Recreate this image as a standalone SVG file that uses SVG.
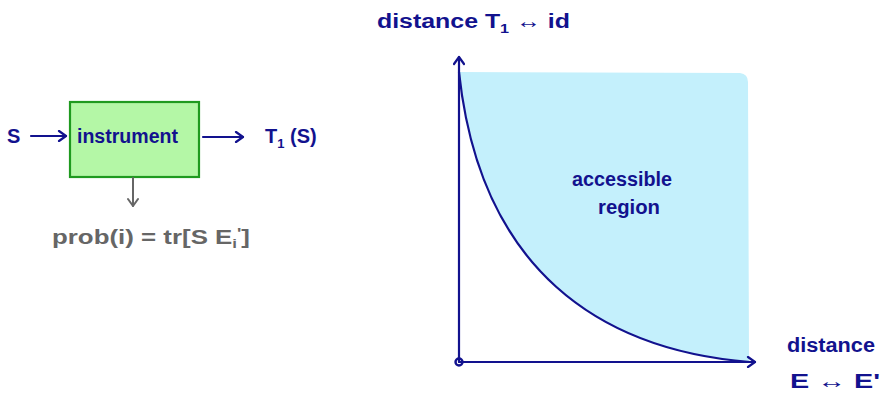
<svg xmlns="http://www.w3.org/2000/svg" width="888" height="394" viewBox="0 0 888 394">
<defs>
<style>
.t{font-family:"Liberation Sans","DejaVu Sans",sans-serif;fill:#12128e;font-size:20px;font-weight:bold}
.g{font-family:"Liberation Sans","DejaVu Sans",sans-serif;fill:#666;font-size:20px;font-weight:bold}
.ln{stroke:#12128e;stroke-width:2.2;fill:none;stroke-linecap:round}
</style>
<marker id="ah" markerWidth="12" markerHeight="12" refX="9" refY="6" orient="auto" markerUnits="userSpaceOnUse">
<path d="M2,1 L9,6 L2,11" fill="none" stroke="#12128e" stroke-width="2.2" stroke-linecap="round" stroke-linejoin="round"/>
</marker>
<marker id="ahg" markerWidth="12" markerHeight="12" refX="9" refY="6" orient="auto" markerUnits="userSpaceOnUse">
<path d="M2,1 L9,6 L2,11" fill="none" stroke="#666" stroke-width="2" stroke-linecap="round" stroke-linejoin="round"/>
</marker>
</defs>
<rect width="888" height="394" fill="#fff"/>

<g id="region">
<path d="M459,72 L740,73 Q748,74 748,82 L749,360 L750,362 C600,350 480,270 459,72 Z" fill="#c4f0fc"/>
</g>

<g id="instrument">
<rect x="70" y="102" width="129" height="75" fill="#b4f7a6" stroke="#1f9a1f" stroke-width="2.2"/>
<text class="t" x="77" y="143" textLength="101" lengthAdjust="spacingAndGlyphs">instrument</text>
</g>

<g id="input"><text class="t" x="7" y="143" font-size="22">S</text></g>
<g id="output"><text class="t" x="265" y="143">T<tspan font-size="13" dy="5">1</tspan><tspan dy="-5"> (S)</tspan></text></g>
<g id="prob"><text class="g" x="52" y="244" textLength="198" lengthAdjust="spacingAndGlyphs">prob(i) = tr[S E<tspan font-size="13" dy="4">i</tspan><tspan dy="-10" font-size="14">'</tspan><tspan dy="6">]</tspan></text></g>

<g id="ylabel"><text class="t" x="377" y="28" textLength="193" lengthAdjust="spacingAndGlyphs">distance T<tspan font-size="13" dy="5">1</tspan><tspan dy="-5"> ↔ id</tspan></text></g>
<g id="xlabel">
<text class="t" x="787" y="352" textLength="88" lengthAdjust="spacingAndGlyphs">distance</text>
<text class="t" x="790" y="388" textLength="90" lengthAdjust="spacingAndGlyphs">E ↔ E'</text>
</g>
<g id="label-region">
<text class="t" x="572" y="186" textLength="100" lengthAdjust="spacingAndGlyphs">accessible</text>
<text class="t" x="598" y="214" textLength="62" lengthAdjust="spacingAndGlyphs">region</text>
</g>

<g id="connectors">
<line class="ln" x1="31" y1="136" x2="66" y2="136" marker-end="url(#ah)"/>
<line class="ln" x1="203" y1="137" x2="243" y2="137" marker-end="url(#ah)"/>
<line x1="133" y1="178" x2="133" y2="206" stroke="#666" stroke-width="2" stroke-linecap="round" marker-end="url(#ahg)"/>
<line class="ln" x1="459" y1="362" x2="459" y2="57" stroke-width="2.6" marker-end="url(#ah)"/>
<line class="ln" x1="459" y1="362" x2="755" y2="362" stroke-width="2.6" marker-end="url(#ah)"/>
<circle cx="459" cy="362" r="3.5" fill="none" stroke="#12128e" stroke-width="2.4"/>
<path class="ln" d="M459,72 C480,270 600,350 750,362" stroke-width="2.6"/>
</g>
</svg>
